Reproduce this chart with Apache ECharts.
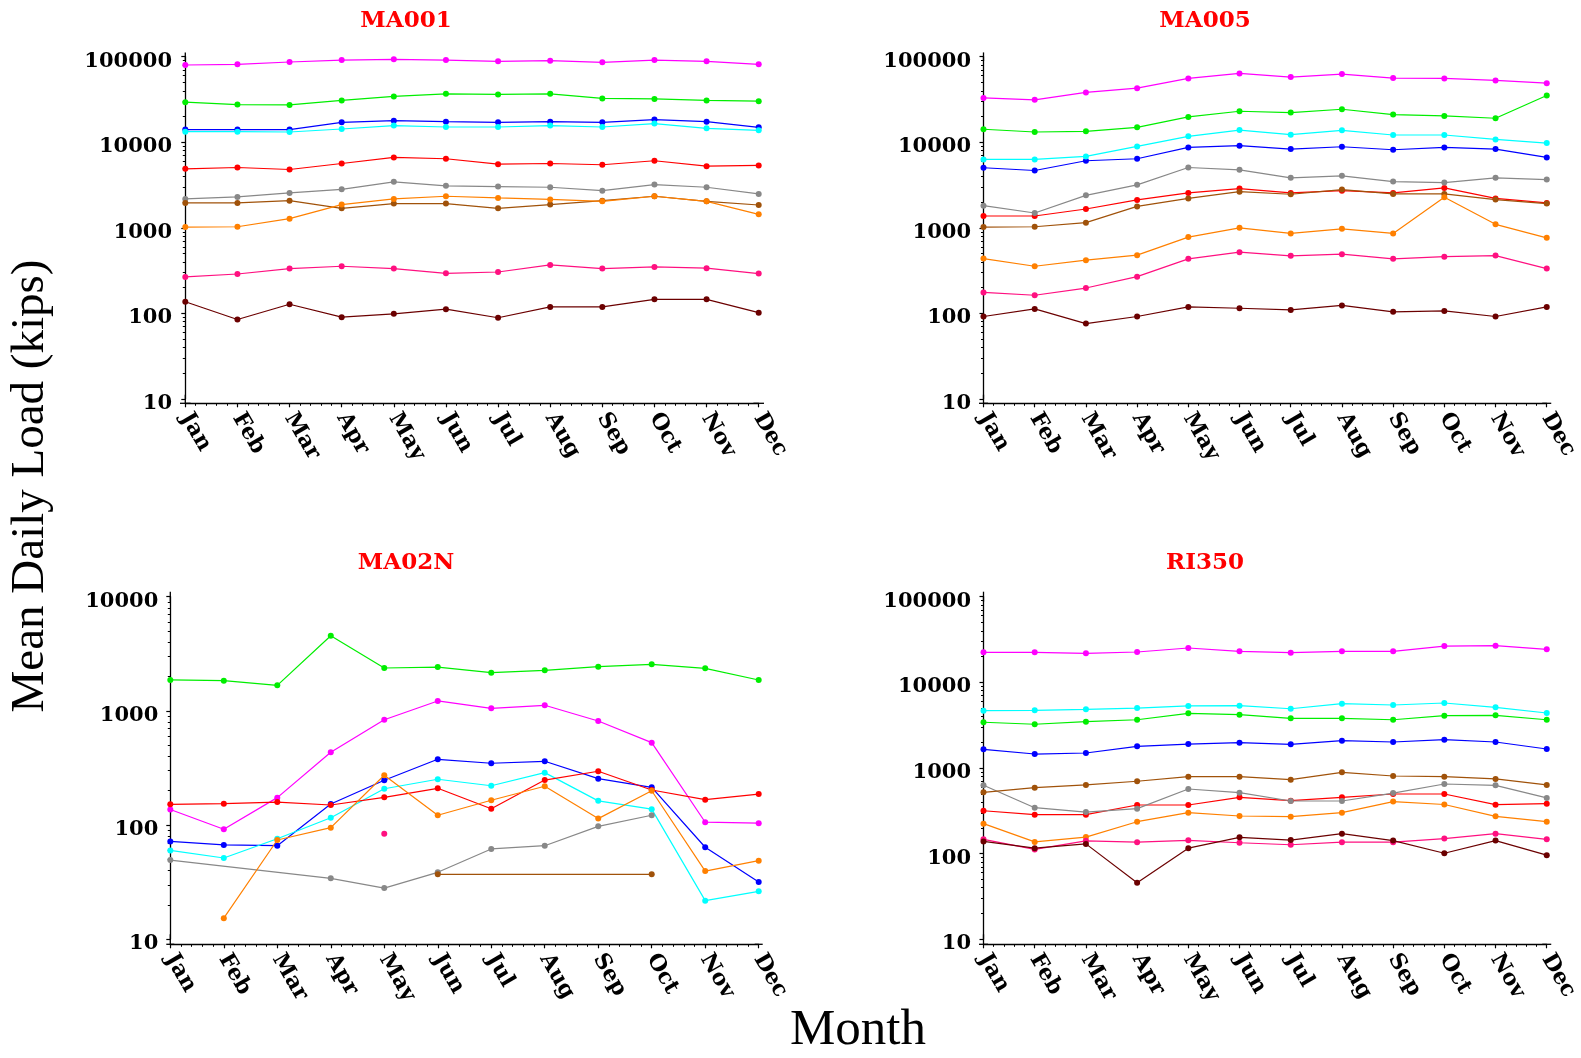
<!DOCTYPE html>
<html>
<head>
<meta charset="utf-8">
<script src="https://cdn.jsdelivr.net/npm/echarts@6/dist/echarts.min.js"></script>
<style>
html,body{margin:0;padding:0;background:#fff;}
#chart{width:1581px;height:1058px;}
</style>
</head>
<body>
<div id="chart"></div>
<script>
// ---------- categories / tick labels ----------
const months = ['Jan','Feb','Mar','Apr','May','Jun','Jul','Aug','Sep','Oct','Nov','Dec'];
const panelTitles = ['MA001','MA005','MA02N','RI350'];
const panelYMax = [100000, 100000, 10000, 100000];

// ---------- MA001 ----------
const ma001_magenta = [80000, 81400, 86700, 91400, 93200, 91400, 88300, 89800, 86000, 91400, 88300, 81400];
const ma001_green   = [29400, 27600, 27300, 30800, 34300, 36800, 36200, 36800, 32500, 32100, 30800, 30200];
const ma001_blue    = [14060, 14060, 14060, 17100, 17900, 17400, 17100, 17400, 17100, 18400, 17400, 14960];
const ma001_cyan    = [13300, 13300, 13180, 14290, 15670, 15080, 15080, 15670, 15080, 16530, 14560, 13800];
const ma001_red     = [4900, 5070, 4810, 5650, 6650, 6420, 5550, 5650, 5460, 6080, 5260, 5360];
const ma001_gray    = [2180, 2300, 2560, 2820, 3450, 3100, 3040, 2980, 2720, 3200, 2980, 2490];
const ma001_brown   = [1955, 1955, 2080, 1690, 1920, 1920, 1690, 1870, 2080, 2340, 2040, 1850];
const ma001_orange  = [1020, 1030, 1280, 1870, 2180, 2340, 2240, 2150, 2040, 2340, 2040, 1440];
const ma001_pink    = [267, 289, 334, 356, 334, 294, 305, 369, 334, 349, 338, 292];
const ma001_darkred = [137, 85, 128, 90.5, 99, 112, 89, 119, 119, 146, 146, 102];

// ---------- MA005 ----------
const ma005_magenta = [33000, 31300, 38200, 42900, 55700, 63800, 57800, 62700, 56200, 55700, 52800, 49100];
const ma005_green   = [14200, 13180, 13430, 14960, 19770, 23050, 22250, 24320, 21090, 20310, 19080, 35240];
const ma005_blue    = [5040, 4680, 6080, 6420, 8710, 9120, 8320, 8870, 8180, 8710, 8320, 6650];
const ma005_cyan    = [6300, 6300, 6840, 8950, 11730, 13900, 12280, 13800, 12160, 12160, 10810, 9790];
const ma005_red     = [1375, 1375, 1660, 2120, 2560, 2880, 2560, 2720, 2560, 2930, 2210, 1955];
const ma005_gray    = [1815, 1490, 2400, 3180, 5070, 4770, 3840, 4050, 3470, 3380, 3840, 3670];
const ma005_brown   = [1020, 1030, 1150, 1780, 2210, 2650, 2470, 2800, 2490, 2490, 2140, 1920];
const ma005_orange  = [437, 356, 419, 480, 780, 1000, 860, 975, 860, 2275, 1100, 765];
const ma005_pink    = [176, 163, 198, 269, 434, 520, 471, 492, 434, 461, 474, 334];
const ma005_darkred = [92, 113, 76, 92, 119, 115, 110, 124, 104.5, 107, 92, 119];

// ---------- MA02N ----------
const ma02n_magenta = [137, 92, 174, 434, 837, 1222, 1054, 1120, 816, 527, 106, 104];
const ma02n_green   = [1866, 1840, 1675, 4550, 2375, 2420, 2160, 2265, 2440, 2560, 2360, 1866];
const ma02n_blue    = [72, 67, 66, 153, 247, 377, 348, 362, 255, 214, 64, 31.8];
const ma02n_cyan    = [60, 51.5, 76, 116, 208, 252, 221, 288, 163, 138, 21.8, 26.3];
const ma02n_red     = [152, 154, 159, 150, 175, 210, 139, 248, 296, 203, 167, 187];
const ma02n_gray    = [49.4, null, null, 34.2, 28.1, 38.6, 61.8, 66, 97.5, 122, null, null];
const ma02n_brown   = [null, null, null, null, null, 37.1, null, null, null, 37.1, null, null];
const ma02n_orange  = [null, 15.3, 74, 95, 273, 122, 165, 219, 114, 200, 39.6, 48.8];
const ma02n_pink    = [null, null, null, null, 84, null, null, null, null, null, null, null];
const ma02n_darkred = [null, null, null, null, null, null, null, null, null, null, null, null];

// ---------- RI350 ----------
const ri350_magenta = [22430, 22430, 21830, 22600, 25180, 23050, 22190, 23050, 23050, 26550, 26790, 24320];
const ri350_green   = [3420, 3240, 3470, 3660, 4350, 4190, 3800, 3800, 3660, 4080, 4120, 3660];
const ri350_blue    = [1650, 1456, 1496, 1790, 1905, 1973, 1890, 2084, 2013, 2140, 2013, 1667];
const ri350_cyan    = [4670, 4720, 4840, 5010, 5300, 5340, 4920, 5630, 5440, 5740, 5110, 4390];
const ri350_red     = [317, 285, 285, 370, 370, 455, 415, 455, 497, 497, 373, 383];
const ri350_gray    = [628, 344, 306, 335, 569, 515, 412, 412, 510, 650, 628, 447];
const ri350_brown   = [520, 589, 634, 700, 791, 791, 730, 891, 807, 791, 745, 634];
const ri350_orange  = [224, 137, 156, 236, 301, 275, 270, 301, 405, 375, 273, 236];
const ri350_pink    = [147, 112, 141, 136, 143, 134, 127, 136, 136, 150, 171, 147];
const ri350_darkred = [139, 116, 130, 45.8, 116, 155, 144, 171, 142, 101, 142, 96];

const seriesNames = ['Series 1','Series 2','Series 3','Series 4','Series 5','Series 6','Series 7','Series 8','Series 9','Series 10'];

const panelData = [
  [ma001_magenta, ma001_green, ma001_blue, ma001_cyan, ma001_red, ma001_gray, ma001_brown, ma001_orange, ma001_pink, ma001_darkred],
  [ma005_magenta, ma005_green, ma005_blue, ma005_cyan, ma005_red, ma005_gray, ma005_brown, ma005_orange, ma005_pink, ma005_darkred],
  [ma02n_magenta, ma02n_green, ma02n_blue, ma02n_cyan, ma02n_red, ma02n_gray, ma02n_brown, ma02n_orange, ma02n_pink, ma02n_darkred],
  [ri350_magenta, ri350_green, ri350_blue, ri350_cyan, ri350_red, ri350_gray, ri350_brown, ri350_orange, ri350_pink, ri350_darkred]
];

// ---------- styles / layout ----------
const seriesColors = ['#ff00ff','#00ee00','#0000ff','#00ffff','#ff0000','#888888','#a0520a','#ff8000','#ff1080','#6b0000'];
const layout = [
  {left:185.3, top:56.7,  width:573.4, height:342.3, yOff:5.3, xOff:4.3, titleX:406,  titleY:9.5},
  {left:983.5, top:56.7,  width:572.8, height:342.3, yOff:4.5, xOff:4.3, titleX:1205, titleY:9.5},
  {left:170.3, top:596.7, width:588.4, height:342.6, yOff:4.0, xOff:5.0, titleX:406,  titleY:552},
  {left:983.5, top:596.7, width:572.8, height:342.6, yOff:4.5, xOff:5.0, titleX:1205, titleY:552}
];
const tickFont = {fontFamily:'DejaVu Serif', fontWeight:'bold', fontSize:21, color:'#000'};
const monthFont = {fontFamily:'DejaVu Serif', fontWeight:'bold', fontSize:22, color:'#000'};
const axisLineStyle = {color:'#000', width:1.3};

const option = {
  animation:false,
  backgroundColor:'#fff',
  title: layout.map((L,i)=>({
    text: panelTitles[i], left:L.titleX, top:L.titleY, textAlign:'center', padding:0,
    textStyle:{color:'#ff0000', fontFamily:'DejaVu Serif', fontWeight:'bold', fontSize:23}
  })),
  grid: layout.map(L=>({left:L.left, top:L.top, width:L.width, height:L.height, containLabel:false})),
  xAxis: [],
  yAxis: [],
  series: [],
  graphic: [
    {type:'text', x:30.3, y:486, rotation:Math.PI/2,
     style:{text:'Mean Daily Load (kips)', fontFamily:'Liberation Serif', fontSize:47, fill:'#000',
            align:'center', verticalAlign:'middle', textAlign:'center', textVerticalAlign:'middle'}},
    {type:'text', x:858, y:1030.5,
     style:{text:'Month', fontFamily:'Liberation Serif', fontSize:51, fill:'#000',
            align:'center', verticalAlign:'middle', textAlign:'center', textVerticalAlign:'middle'}}
  ]
};

layout.forEach((L,i)=>{
  option.xAxis.push({
    type:'category', gridIndex:i, position:'bottom', data:months, boundaryGap:false, offset:L.xOff,
    axisLine:{show:true, lineStyle:axisLineStyle, symbol:['rect','rect'], symbolSize:[1.3, 2*L.yOff]},
    axisTick:{show:false},
    axisLabel:Object.assign({rotate:-60, margin:11, interval:0, verticalAlign:'middle', align:'left', padding:[18,0,0,0]}, monthFont),
    splitLine:{show:false}
  });
  option.xAxis.push({
    type:'value', gridIndex:i, position:'bottom', min:0, max:months.length-1, interval:1, offset:L.xOff,
    axisLine:{show:false},
    axisTick:{show:true, length:4, lineStyle:{color:'#000', width:1.2}},
    minorTick:{show:true, splitNumber:5, length:2.5, lineStyle:{color:'#000', width:1}},
    axisLabel:{show:false}, splitLine:{show:false}, minorSplitLine:{show:false}
  });
  option.yAxis.push({
    type:'log', logBase:10, gridIndex:i, position:'left', min:10, max:panelYMax[i], offset:L.yOff,
    axisLine:{show:true, lineStyle:axisLineStyle, symbol:['rect','rect'], symbolSize:[1.3, 2*L.xOff]},
    axisTick:{show:true, length:4, lineStyle:{color:'#000', width:1.2}},
    minorTick:{show:true, splitNumber:9, length:2.5, lineStyle:{color:'#000', width:1}},
    axisLabel:{margin:8, formatter:v=>'{t|' + String(Math.round(v)) + '}',
      rich:{t:Object.assign({padding:[9,0,0,0]}, tickFont)}},
    splitLine:{show:false}, minorSplitLine:{show:false}
  });
  panelData[i].forEach((arr,k)=>{
    option.series.push({
      type:'line', name:seriesNames[k], xAxisIndex:2*i, yAxisIndex:i, data:arr,
      symbol:'circle', symbolSize:6, showSymbol:true, showAllSymbol:true, connectNulls:true,
      lineStyle:{color:seriesColors[k], width:1.2}, itemStyle:{color:seriesColors[k]},
      emphasis:{disabled:true}, silent:true
    });
  });
});

const chart = echarts.init(document.getElementById('chart'), null, {renderer:'canvas'});
chart.setOption(option);
</script>
</body>
</html>
